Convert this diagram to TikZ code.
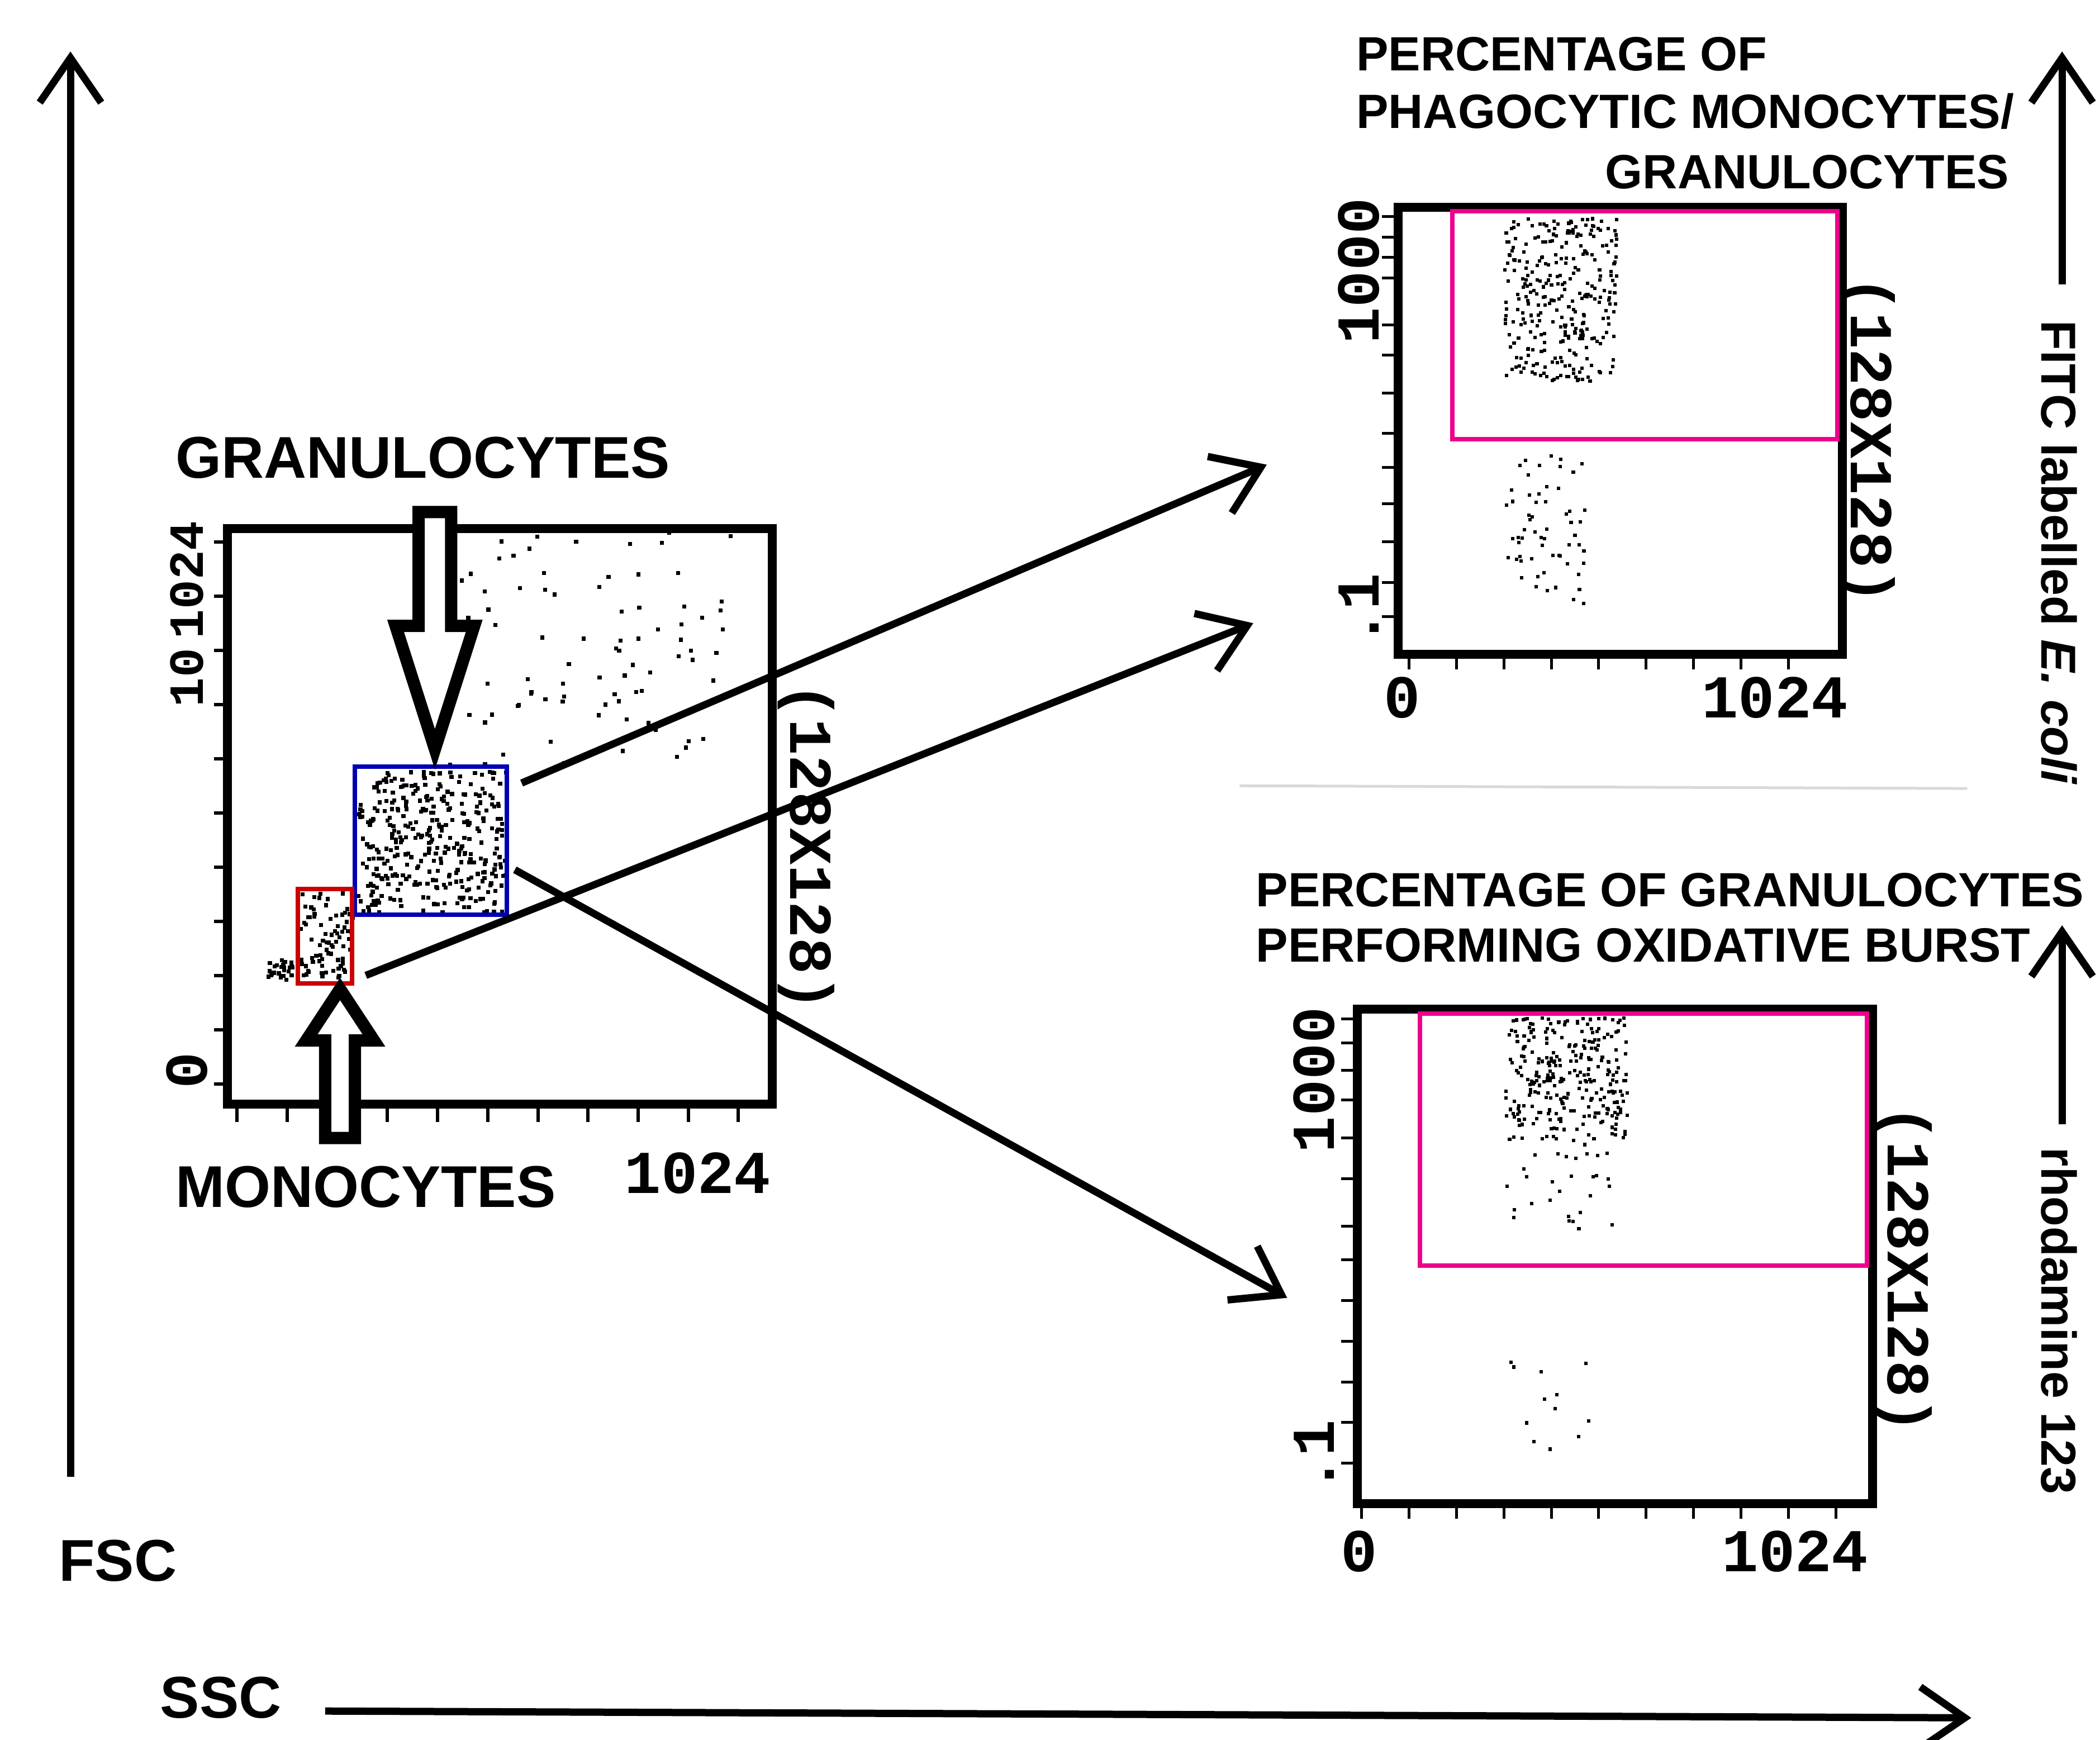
\documentclass[tikz,border=0pt]{standalone}
\usepackage{fontspec}
\setmainfont{Liberation Sans}
\newfontfamily\monofont{Liberation Mono}
\usetikzlibrary{arrows.meta}
\tikzset{
  lbl/.style={font=\bfseries\fontsize{30}{36}\selectfont},
  ttl/.style={font=\bfseries\fontsize{24.5}{30}\selectfont},
  side/.style={font=\bfseries\fontsize{25}{30}\selectfont},
  axnum/.style={font=\monofont\bfseries\fontsize{31}{34}\selectfont},
  smallnum/.style={font=\monofont\bfseries\fontsize{25}{30}\selectfont},
  plot/.style={line width=1.6mm},
  gate/.style={line width=0.8mm},
  big/.style={-{Straight Barb[length=8mm,width=11mm,line width=1.3mm]},line width=1.3mm},
  hollow/.style={line width=2.2mm,fill=white},
  dot/.style={fill=black}
}
\begin{document}
\begin{tikzpicture}[x=0.02424cm,y=-0.02424cm]
    \useasboundingbox (0,0) rectangle (1550,1284);
    \fill[white] (0,0) rectangle (1550,1284);

    % axes
    \coordinate (fscA) at (52,1090);
    \coordinate (fscB) at (52,38);
    \draw[big] (fscA) -- (fscB);
    \node[lbl] (fsc) at (87,1152) {FSC};
    \node[lbl] (ssc) at (163,1253) {SSC};
    \coordinate (sscA) at (240,1263);
    \coordinate (sscB) at (1455,1268);
    \draw[big] (sscA) -- (sscB);

    % main scatter plot
    \draw[plot] (168,390) rectangle (570,815);
    \foreach \x in {175,212,...,545} \draw[line width=0.6mm] (\x,815) -- (\x,828);
    \foreach \y in {400,440,...,800} \draw[line width=0.6mm] (168,\y) -- (158,\y);
    \node[smallnum,rotate=90] (m1024) at (138,428) {1024};
    \node[smallnum,rotate=90] (m10) at (138,500) {10};
    \node[axnum,rotate=90] (m0) at (138,790) {0};
    \node[axnum] (mb1024) at (515,866) {1024};
    \node[axnum,rotate=-90] (mres) at (595,625) {(128X128)};
    \pgfmathsetseed{7}
    \foreach \i in {1,...,350} \fill[dot] ({318+rand*55},{620+rand*52}) rectangle ++(3,3);
    \foreach \i in {1,...,90} \fill[dot] ({430+rand*110},{480+rand*90}) rectangle ++(3,3);
    \foreach \i in {1,...,80} \fill[dot] ({240+rand*20},{690+rand*32}) rectangle ++(3,3);
    \foreach \i in {1,...,25} \fill[dot] ({205+rand*10},{715+rand*8}) rectangle ++(3,3);
    \draw[gate,blue!70!black] (262,566) rectangle (374,675);
    \draw[gate,red!80!black] (220,656) rectangle (260,726);

    \node[lbl] (gran) at (312,338) {GRANULOCYTES};
    \node[lbl] (mono) at (270,876) {MONOCYTES};
    \draw[hollow] (309,378) -- (333,378) -- (333,462) -- (350,462) -- (321,553)
        -- (292,462) -- (309,462) -- cycle;
    \draw[hollow] (240,840) -- (262,840) -- (262,768) -- (276,768) -- (251,730)
        -- (226,768) -- (240,768) -- cycle;

    \coordinate (gA) at (385,578);
    \coordinate (gB) at (935,343);
    \coordinate (mA) at (270,720);
    \coordinate (mB) at (925,460);
    \coordinate (oA) at (380,642);
    \coordinate (oB) at (950,958);
    \draw[big] (gA) -- (gB);
    \draw[big] (mA) -- (mB);
    \draw[big] (oA) -- (oB);

    % phagocytosis plot
    \node[ttl,anchor=west] (t1) at (996,40) {PERCENTAGE OF};
    \node[ttl,anchor=west] (t2) at (996,82) {PHAGOCYTIC MONOCYTES/};
    \node[ttl,anchor=east] (t3) at (1488,127) {GRANULOCYTES};
    \draw[plot] (1032,153) rectangle (1360,483);
    \foreach \x in {1040,1075,...,1350} \draw[line width=0.5mm] (\x,483) -- (\x,494);
    \foreach \y in {160,175,190,205,240,262,290,320,345,372,400,430,455} \draw[line width=0.5mm] (1032,\y) -- (1020,\y);
    \node[axnum,rotate=90] (p1000) at (1003,200) {1000};
    \node[axnum,rotate=90] (p01) at (1003,450) {.1};
    \node[axnum] (p0) at (1035,515) {0};
    \node[axnum] (p1024) at (1310,515) {1024};
    \node[axnum,rotate=-90] (pres) at (1378,325) {(128X128)};
    \foreach \i in {1,...,300} \fill[dot] ({1150+rand*42},{220+rand*60}) rectangle ++(2.5,2.5);
    \foreach \i in {1,...,60} \fill[dot] ({1140+rand*30},{390+rand*55}) rectangle ++(2.5,2.5);
    \draw[gate,magenta] (1072,156) rectangle (1356,324);
    \coordinate (fA) at (1522,210);
    \coordinate (fB) at (1522,38);
    \draw[big] (fA) -- (fB);
    \node[side,rotate=-90] (fitc) at (1520,408) {FITC labelled \textit{E. coli}};

    \draw[gray!30,line width=0.5mm] (915,580) -- (1452,582);

    % oxidative burst plot
    \node[ttl,anchor=west] (t4) at (922,657) {PERCENTAGE OF GRANULOCYTES};
    \node[ttl,anchor=west] (t5) at (922,698) {PERFORMING OXIDATIVE BURST};
    \draw[plot] (1002,745) rectangle (1382,1110);
    \foreach \x in {1005,1040,...,1375} \draw[line width=0.5mm] (\x,1110) -- (\x,1121);
    \foreach \y in {752,770,790,812,840,870,905,930,960,990,1020,1050,1080} \draw[line width=0.5mm] (1002,\y) -- (990,\y);
    \node[axnum,rotate=90] (o1000) at (970,797) {1000};
    \node[axnum,rotate=90] (o01) at (970,1075) {.1};
    \node[axnum] (o0) at (1003,1145) {0};
    \node[axnum] (o1024) at (1325,1145) {1024};
    \node[axnum,rotate=-90] (ores) at (1405,937) {(128X128)};
    \foreach \i in {1,...,280} \fill[dot] ({1155+rand*45},{795+rand*45}) rectangle ++(2.5,2.5);
    \foreach \i in {1,...,30} \fill[dot] ({1150+rand*40},{880+rand*40}) rectangle ++(2.5,2.5);
    \foreach \i in {1,...,12} \fill[dot] ({1145+rand*35},{1030+rand*40}) rectangle ++(2.5,2.5);
    \draw[gate,magenta] (1048,748) rectangle (1378,934);
    \coordinate (rA) at (1522,830);
    \coordinate (rB) at (1522,683);
    \draw[big] (rA) -- (rB);
    \node[side,rotate=-90] (rho) at (1520,975) {rhodamine 123};
\end{tikzpicture}
\end{document}
